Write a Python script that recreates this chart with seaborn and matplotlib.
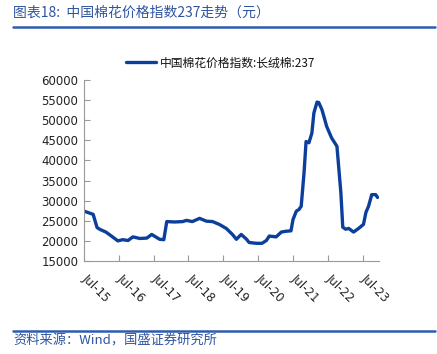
import matplotlib
matplotlib.use("Agg")
import matplotlib.pyplot as plt
import matplotlib.transforms as mtransforms
import seaborn as sns
import pandas as pd
from matplotlib.lines import Line2D

sns.set_theme(style="white")
plt.rcParams['font.family'] = ['Noto Sans CJK SC', 'DejaVu Sans']

title = "图表18:  中国棉花价格指数237走势（元）"
source = "资料来源：Wind，国盛证券研究所"
series_name = "中国棉花价格指数:长绒棉:237"

dates = ["2015-07-01", "2015-10-05", "2015-11-15", "2015-12-20", "2016-02-15",
         "2016-05-01", "2016-06-20", "2016-08-10", "2016-10-05", "2016-11-25",
         "2017-02-05", "2017-04-20", "2017-06-10", "2017-09-01", "2017-10-15",
         "2017-11-15", "2018-02-05", "2018-05-01", "2018-06-10", "2018-08-10",
         "2018-10-25", "2019-01-05", "2019-03-10", "2019-05-20", "2019-08-01",
         "2019-10-05", "2019-11-15", "2020-01-05", "2020-03-01", "2020-03-28",
         "2020-06-10", "2020-08-10", "2020-09-25", "2020-10-25", "2021-01-05",
         "2021-03-01", "2021-04-20", "2021-06-10", "2021-07-01", "2021-08-05",
         "2021-09-01", "2021-09-25", "2021-10-25", "2021-11-15", "2021-12-15",
         "2022-01-15", "2022-02-05", "2022-03-10", "2022-03-28", "2022-05-01",
         "2022-06-20", "2022-08-10", "2022-10-05", "2022-11-15", "2022-12-05",
         "2023-01-05", "2023-02-05", "2023-03-28", "2023-05-20", "2023-07-10",
         "2023-08-05", "2023-09-01", "2023-10-05", "2023-11-15", "2023-12-05"]
values = [27400, 26600, 23300, 22800, 22200,
          20900, 20000, 20300, 20100, 21000,
          20600, 20700, 21600, 20400, 20300,
          24800, 24700, 24800, 25100, 24800,
          25600, 24900, 24800, 24100, 23100,
          21600, 20400, 21600, 20400, 19600,
          19400, 19400, 20100, 21200, 21000,
          22200, 22400, 22500, 25300, 27400,
          27800, 28600, 37000, 44700, 44400,
          46800, 51800, 54500, 54400, 52600,
          48400, 45600, 43500, 32000, 23400,
          22900, 23100, 22200, 23100, 24100,
          27100, 28600, 31500, 31500, 30800]

tick_dates = ["2015-07-01", "2016-07-01", "2017-07-01", "2018-07-01", "2019-07-01",
              "2020-07-01", "2021-07-01", "2022-07-01", "2023-07-01"]
tick_labels = ["Jul-15", "Jul-16", "Jul-17", "Jul-18", "Jul-19",
               "Jul-20", "Jul-21", "Jul-22", "Jul-23"]
y_ticks = [15000, 20000, 25000, 30000, 35000, 40000, 45000, 50000, 55000, 60000]

df = pd.DataFrame({"date": pd.to_datetime(dates), "value": values})

fig = plt.figure(figsize=(4.37, 3.54), dpi=100)
ax = fig.add_axes([84/437, 1-261/354, (379-84)/437, (261-80)/354])

line_color = "#0B3F9B"
sns.lineplot(data=df, x="date", y="value", ax=ax, color=line_color, linewidth=2.4)

ax.set_xlim(pd.Timestamp("2015-07-01"), pd.Timestamp("2023-12-20"))
ax.set_ylim(15000, 60000)

for s in ["top", "right"]:
    ax.spines[s].set_visible(False)
for s in ["left", "bottom"]:
    ax.spines[s].set_color("#999999")
    ax.spines[s].set_linewidth(0.8)
ax.tick_params(axis="both", direction="in", length=4, color="#999999", width=0.8,
               colors="#222222")
ax.tick_params(axis="x", pad=9)
ax.tick_params(axis="y", pad=4)
ax.tick_params(axis="both", which="both", bottom=True, left=True, color="#999999")

ax.set_yticks(y_ticks)
ax.set_yticklabels([str(v) for v in y_ticks], fontsize=8.5, family="DejaVu Sans")
ax.set_xticks(pd.to_datetime(tick_dates))
ax.set_xticklabels(tick_labels, rotation=-45, ha="left", va="top",
                   rotation_mode="anchor", fontsize=8.5, family="DejaVu Sans")
offset = mtransforms.ScaledTranslation(5/100, 2/100, fig.dpi_scale_trans)
for lbl in ax.get_xticklabels():
    lbl.set_transform(lbl.get_transform() + offset)
ax.set_xlabel("")
ax.set_ylabel("")

# legend
handle = Line2D([0], [0], color=line_color, linewidth=2.4)
leg = fig.legend([handle], [series_name], loc="center left",
                 bbox_to_anchor=(115/437, 1-63/354), frameon=False,
                 fontsize=8.5, handlelength=2.6, handletextpad=0.3)
for t in leg.get_texts():
    t.set_color("#111111")

title_color = "#2E55A0"
fig.text(13/437, 1-13/354, title, fontsize=10, color=title_color,
         style="italic", va="center", ha="left")
fig.add_artist(Line2D([13/437, 435/437], [1-27.3/354, 1-27.3/354],
                      color="#2E5CB0", linewidth=1.8))
fig.add_artist(Line2D([13/437, 435/437], [1-330.7/354, 1-330.7/354],
                      color="#2E5CB0", linewidth=1.8))
fig.text(13/437, 1-341/354, source, fontsize=9.5, color=title_color,
         style="italic", va="center", ha="left")

fig.savefig("out.png", dpi=100)
